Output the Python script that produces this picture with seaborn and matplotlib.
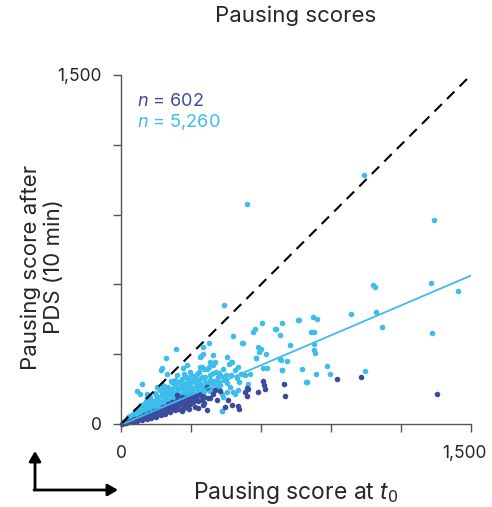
import matplotlib
matplotlib.use("Agg")
import matplotlib.pyplot as plt
import matplotlib.transforms as mtransforms
import pandas as pd
import seaborn as sns

# light blue: all genes (n = 5,260)
all_x = [1043, 1343, 540, 1081, 1090, 1329, 1444, 1093, 1117, 1334, 1046,
         689, 663, 681, 763, 822, 841, 814, 829, 987, 723, 829, 826, 833, 683, 710, 691, 774, 882, 894, 837, 794,
         519, 351, 393, 453, 471, 462, 403, 384, 577, 621, 600, 370, 340, 396, 420, 450, 553, 514, 348, 324,
         496, 546, 507, 403, 424, 466, 453, 481, 490, 503, 431, 438, 431,
         237, 174, 198, 267, 281, 343, 353, 67, 113, 153, 174, 217, 246, 281, 303, 89,
         440, 377, 481, 521, 760, 606, 574, 567, 660,
         588, 593, 579, 193, 170, 339, 346, 381, 407, 503, 474, 531, 610, 624, 691, 796, 686, 81, 110, 434,
         331, 324, 339, 346, 360, 381,
         10, 15, 20, 25, 30, 35, 40, 45, 50, 55, 60, 65, 70, 75, 80, 85, 90, 95, 100, 105, 110, 115, 120, 125,
         130, 135, 140, 145, 150, 155, 160, 165, 170, 175, 180, 185, 190, 195, 200, 205, 210, 215, 220, 225,
         230, 235, 240, 245, 250, 255, 260, 265, 270, 275, 280, 285, 290, 295, 300, 310, 320, 330, 260, 230,
         200, 180, 150, 120, 100, 80, 60, 50, 40, 30, 20, 140, 160, 190, 210, 230, 250, 270, 290, 310, 330,
         350, 370, 390, 410, 420, 440, 455, 360, 380, 300, 280, 250, 130, 110, 90, 70, 55, 45, 35, 25, 120,
         170, 200, 240, 215, 185, 165, 145, 125, 105, 85, 65, 240, 270, 300, 320, 340, 285,
         155, 175, 195, 225, 255, 275, 295, 315, 335, 355, 375, 395, 415, 435, 260, 280, 300, 320, 340,
         360, 380, 400, 420, 200, 220, 240, 180, 160, 140, 120, 350, 370, 390, 410, 430, 450, 470, 490,
         310, 330, 290, 270]
all_y = [1071, 876, 947, 597, 590, 607, 573, 483, 417, 391, 227,
         436, 409, 383, 447, 459, 451, 396, 394, 473, 340, 344, 317, 304, 279, 271, 233, 237, 249, 217, 214, 180,
         349, 303, 297, 290, 266, 260, 267, 264, 282, 303, 321, 236, 243, 221, 220, 211, 214, 213, 203, 217,
         196, 174, 179, 174, 167, 160, 136, 138, 131, 146, 127, 114, 57,
         324, 239, 217, 239, 253, 293, 331, 141, 127, 160, 167, 181, 181, 174, 153, 174,
         513, 350, 377, 347, 449, 434, 410, 396, 407,
         329, 310, 282, 282, 234, 289, 246, 267, 224, 246, 267, 210, 239, 239, 231, 179, 277, 129, 117, 56,
         160, 131, 174, 138, 181, 189,
         8, 10, 12, 18, 20, 25, 22, 35, 30, 40, 35, 50, 45, 55, 40, 60, 52, 70, 58, 75, 62, 85, 70, 90,
         78, 100, 85, 72, 105, 90, 115, 95, 80, 120, 100, 130, 110, 90, 125, 140, 105, 130, 150, 115,
         135, 160, 120, 145, 100, 165, 130, 150, 115, 140, 160, 125, 145, 170, 135, 150, 190, 140, 195, 190,
         160, 150, 125, 100, 85, 68, 55, 45, 35, 28, 18, 60, 70, 85, 90, 100, 110, 125, 120, 130, 150,
         160, 170, 150, 165, 180, 190, 175, 200, 210, 210, 200, 180, 55, 50, 40, 30, 25, 20, 15, 12, 45,
         65, 75, 95, 185, 165, 145, 135, 115, 98, 80, 62, 210, 215, 180, 175, 195, 185,
         112, 132, 142, 172, 182, 205, 225, 205, 225, 235, 245, 255, 200, 235, 172, 178, 195, 160, 168,
         145, 140, 185, 150, 95, 108, 128, 120, 105, 95, 82, 130, 155, 175, 190, 205, 195, 210, 230,
         115, 120, 100, 95]

# dark blue: subset (n = 602)
sub_x = [1029, 1356, 697, 704, 926, 610, 611, 586, 617, 531, 543, 367, 403, 410, 474, 507, 446, 346, 331,
         367, 353, 374, 357, 460, 539, 539, 503, 381, 239,
         5, 10, 15, 20, 25, 30, 35, 40, 45, 50, 55, 60, 65, 70, 75, 80, 85, 90, 95, 100, 105, 110, 115, 120,
         125, 130, 135, 140, 145, 150, 155, 160, 165, 170, 175, 180, 185, 190, 195, 200, 205, 210, 215, 220,
         225, 230, 235, 240, 245, 250, 255, 260, 265, 270, 275, 280, 285, 290, 295, 300, 305, 310, 315, 320,
         330, 335, 345, 100, 120, 140, 160, 180, 200, 220, 240, 260, 280, 300, 150, 170, 190, 210, 230, 250,
         270, 130, 110, 90, 70, 50, 315, 355, 395, 425, 290, 260]
sub_y = [200, 129, 170, 121, 193, 186, 167, 138, 149, 138, 149, 160, 146, 103, 81, 64, 74, 103, 67,
         60, 81, 110, 117, 103, 153, 120, 78, 110, 124,
         2, 3, 5, 6, 8, 9, 10, 13, 12, 16, 15, 20, 18, 22, 25, 20, 28, 25, 32, 28, 35, 30, 38, 33,
         42, 36, 45, 40, 50, 42, 55, 48, 60, 52, 62, 55, 68, 58, 72, 62, 75, 66, 80, 70,
         85, 74, 90, 78, 95, 82, 100, 88, 105, 92, 110, 96, 100, 115, 85, 105, 120, 95, 125, 110,
         100, 130, 120, 40, 48, 55, 62, 72, 85, 95, 105, 115, 80, 90, 30, 40, 45, 50, 60, 65,
         70, 25, 22, 18, 15, 10, 75, 90, 130, 140, 65, 55]

n_all = "5,260"
n_sub = "602"
fit_slope = 0.428
fit_intercept = -4
axis_max = 1500
tick_step = 300

light_blue = "#3dbdec"
dark_blue = "#3b4b9d"

df_all = pd.DataFrame({"t0": all_x, "pds": all_y})
df_sub = pd.DataFrame({"t0": sub_x, "pds": sub_y})

sns.set_style("ticks")
plt.rcParams["font.family"] = ["Inter", "DejaVu Sans"]
plt.rcParams["mathtext.fontset"] = "custom"
plt.rcParams["mathtext.it"] = "Inter:italic"

fig = plt.figure(figsize=(4.92, 5.07), dpi=100)
ax = fig.add_axes([121 / 492, 1 - 424 / 507, 350 / 492, 349 / 507])

sns.scatterplot(data=df_all, x="t0", y="pds", ax=ax, color=light_blue, s=16, linewidth=0, clip_on=False)
sns.scatterplot(data=df_sub, x="t0", y="pds", ax=ax, color=dark_blue, s=16, linewidth=0, clip_on=False)

fit_x = pd.Series([0, axis_max])
ax.plot(fit_x, fit_slope * fit_x + fit_intercept, color=light_blue, linewidth=1.3)
ax.plot([0, axis_max], [0, axis_max], color="black", linewidth=1.5, linestyle=(0, (5, 3.5)))

ax.set_xlim(0, axis_max)
ax.set_ylim(0, axis_max)
ticks = list(range(0, axis_max + 1, tick_step))
tick_labels = ["0"] + [""] * (len(ticks) - 2) + ["1,500"]
ax.set_xticks(ticks)
ax.set_xticklabels(tick_labels)
ax.set_yticks(ticks)
ax.set_yticklabels(tick_labels)
ax.tick_params(length=6, width=1.0, color="#555555", labelsize=12.5)
ax.tick_params(axis="x", pad=9)
ax.tick_params(axis="y", pad=8)
for side in ["left", "bottom"]:
    ax.spines[side].set_color("#555555")
    ax.spines[side].set_linewidth(1.0)
sns.despine(ax=ax)
ax.set_xlabel("")
ax.set_ylabel("")

# last x tick label sits a little left so it stays inside the figure
last_label = ax.get_xticklabels()[-1]
last_label.set_transform(last_label.get_transform() +
                         mtransforms.ScaledTranslation(-7 / 100, 0, fig.dpi_scale_trans))

ax.text(0.045, 0.925, r"$n$ = " + n_sub, transform=ax.transAxes, color=dark_blue, fontsize=13, va="center")
ax.text(0.045, 0.865, r"$n$ = " + n_all, transform=ax.transAxes, color=light_blue, fontsize=13, va="center")

fig.text(296 / 492, 1 - 16 / 507, "Pausing scores", ha="center", va="center", fontsize=16)
fig.text(296 / 492, 1 - 492 / 507, r"Pausing score at $t_0$", ha="center", va="center", fontsize=16.5)
fig.text(42 / 492, 1 - 267 / 507, "Pausing score after\nPDS (10 min)", ha="center", va="center",
         rotation=90, fontsize=16, linespacing=1.2)

# corner axis arrows
fig.add_artist(matplotlib.patches.FancyArrowPatch((35 / 492, 1 - 490 / 507), (35 / 492, 1 - 451 / 507),
               transform=fig.transFigure, arrowstyle="-|>,head_length=6,head_width=3.5",
               color="black", linewidth=2, shrinkA=0, shrinkB=0))
fig.add_artist(matplotlib.patches.FancyArrowPatch((34 / 492, 1 - 490 / 507), (118 / 492, 1 - 490 / 507),
               transform=fig.transFigure, arrowstyle="-|>,head_length=6,head_width=3.5",
               color="black", linewidth=2, shrinkA=0, shrinkB=0))

plt.savefig("out.png", dpi=100)
